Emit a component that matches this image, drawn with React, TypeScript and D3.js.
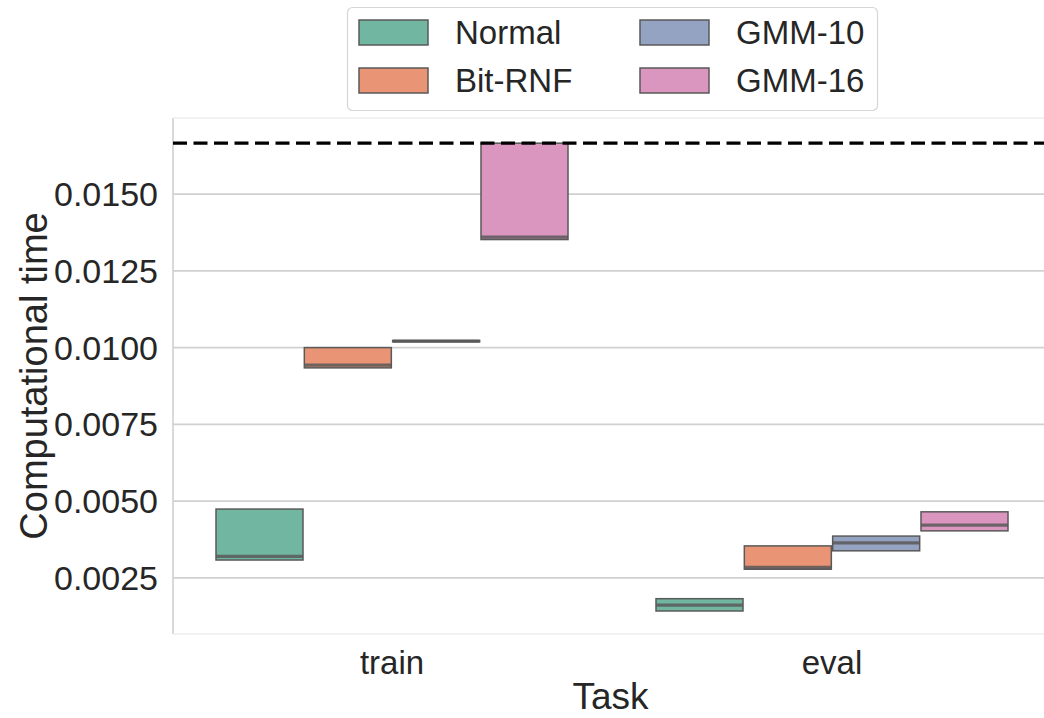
import React, { useEffect, useRef } from "react";
import * as d3 from "d3";

// Categories and hues
const tasks = ["train", "eval"];
const methods = ["Normal", "Bit-RNF", "GMM-10", "GMM-16"];
const colors = ["#71b6a1", "#e99575", "#95a3c3", "#db96c0"];

// Box stats per method, order follows `tasks`
const q1Values = [
  [0.00308, 0.00142],
  [0.00934, 0.00278],
  [0.01019, 0.00338],
  [0.01352, 0.00403],
];
const medianValues = [
  [0.00320, 0.00161],
  [0.00943, 0.00284],
  [0.01021, 0.00364],
  [0.01360, 0.00422],
];
const q3Values = [
  [0.00474, 0.00182],
  [0.01000, 0.00354],
  [0.01023, 0.00386],
  [0.01666, 0.00465],
];

const refLine = 0.01666;
const yTicks = [0.0025, 0.005, 0.0075, 0.01, 0.0125, 0.015];

const W = 1044;
const H = 718;
const FONT = "'Liberation Sans', Arial, sans-serif";
const TEXT = "#262626";
const EDGE = "#595959";

const App = () => {
  const ref = useRef<SVGSVGElement>(null);

  useEffect(() => {
    const svg = d3.select(ref.current);
    svg.selectAll("*").remove();

    const left = 173, right = 1052, top = 118, bottom = 634;

    const x = d3.scaleBand().domain(tasks).range([left - 1, right]).padding(0);
    const hue = d3
      .scaleBand()
      .domain(methods)
      .range([-x.bandwidth() * 0.4, x.bandwidth() * 0.4])
      .paddingInner(0.015);
    const y = d3.scaleLinear().domain([0.00067, 0.01748]).range([bottom, top]);

    const g = svg.append("g").style("font-family", FONT);

    // grid
    g.append("g")
      .selectAll("line")
      .data(yTicks)
      .join("line")
      .attr("x1", left)
      .attr("x2", W)
      .attr("y1", d => y(d))
      .attr("y2", d => y(d))
      .attr("stroke", "#d0d0d0")
      .attr("stroke-width", 1.6);

    // spines
    g.append("line")
      .attr("x1", left).attr("x2", left)
      .attr("y1", top).attr("y2", bottom)
      .attr("stroke", "#d0d0d0").attr("stroke-width", 1.6);
    g.append("line")
      .attr("x1", left).attr("x2", W)
      .attr("y1", top).attr("y2", top)
      .attr("stroke", "#eeeeee").attr("stroke-width", 1.6);
    g.append("line")
      .attr("x1", left).attr("x2", W)
      .attr("y1", bottom).attr("y2", bottom)
      .attr("stroke", "#eeeeee").attr("stroke-width", 1.6);

    // y tick labels
    g.append("g")
      .selectAll("text")
      .data(yTicks)
      .join("text")
      .attr("x", 158)
      .attr("y", d => y(d))
      .attr("dy", "0.35em")
      .attr("text-anchor", "end")
      .attr("font-size", 34)
      .attr("fill", TEXT)
      .text(d => d.toFixed(4));

    // x tick labels
    g.append("g")
      .selectAll("text")
      .data(tasks)
      .join("text")
      .attr("x", d => x(d)! + x.bandwidth() / 2)
      .attr("y", 674)
      .attr("text-anchor", "middle")
      .attr("font-size", 33)
      .attr("fill", TEXT)
      .text(d => d);

    // axis titles
    g.append("text")
      .attr("x", (left + right) / 2 - 2)
      .attr("y", 709)
      .attr("text-anchor", "middle")
      .attr("font-size", 37)
      .attr("fill", TEXT)
      .text("Task");
    g.append("text")
      .attr("transform", `translate(47,${(top + bottom) / 2}) rotate(-90)`)
      .attr("text-anchor", "middle")
      .attr("font-size", 38)
      .attr("fill", TEXT)
      .text("Computational time");

    // boxes
    const boxes = methods.flatMap((m, mi) =>
      tasks.map((t, ti) => ({
        method: m,
        task: t,
        color: colors[mi],
        q1: q1Values[mi][ti],
        med: medianValues[mi][ti],
        q3: q3Values[mi][ti],
      }))
    );

    const bx = (d: any) => x(d.task)! + x.bandwidth() / 2 + hue(d.method)!;

    const box = g.append("g").selectAll("g").data(boxes).join("g");
    box.append("rect")
      .attr("x", d => bx(d))
      .attr("y", d => y(d.q3))
      .attr("width", hue.bandwidth())
      .attr("height", d => Math.max(0.5, y(d.q1) - y(d.q3)))
      .attr("fill", d => d.color)
      .attr("stroke", EDGE)
      .attr("stroke-width", 1.5);
    box.append("line")
      .attr("x1", d => bx(d))
      .attr("x2", d => bx(d) + hue.bandwidth())
      .attr("y1", d => y(d.med))
      .attr("y2", d => y(d.med))
      .attr("stroke", EDGE)
      .attr("stroke-opacity", 0.85)
      .attr("stroke-width", 3.2);

    // reference line
    g.append("line")
      .attr("x1", left)
      .attr("x2", W)
      .attr("y1", y(refLine))
      .attr("y2", y(refLine))
      .attr("stroke", "#000")
      .attr("stroke-width", 3.2)
      .attr("stroke-dasharray", "14,6.5");

    // legend
    const legend = g.append("g");
    legend.append("rect")
      .attr("x", 347.5)
      .attr("y", 7.5)
      .attr("width", 530)
      .attr("height", 103)
      .attr("rx", 5)
      .attr("fill", "#fff")
      .attr("stroke", "#d6d6d6")
      .attr("stroke-width", 1.2);
    const item = legend
      .selectAll("g.item")
      .data(methods)
      .join("g")
      .attr("transform", (d, i) => `translate(${i < 2 ? 359 : 640},${i % 2 === 0 ? 20 : 68})`);
    item.append("rect")
      .attr("width", 69)
      .attr("height", 25)
      .attr("fill", (d, i) => colors[i])
      .attr("stroke", EDGE)
      .attr("stroke-width", 1.5);
    item.append("text")
      .attr("x", 96)
      .attr("y", 12.5)
      .attr("dy", "0.36em")
      .attr("font-size", 33)
      .attr("fill", TEXT)
      .text(d => d);
  }, []);

  return (
    <svg
      ref={ref}
      width={W}
      height={H}
      style={{ position: "absolute", left: 0, top: 0, background: "#fff" }}
    />
  );
};

export default App;
